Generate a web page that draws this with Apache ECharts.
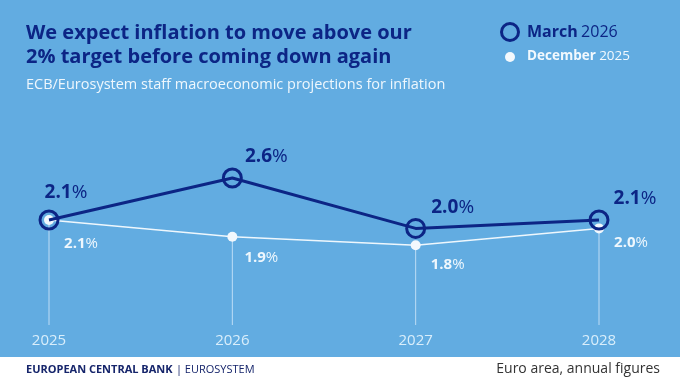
<!DOCTYPE html>
<html><head><meta charset="utf-8">
<script src="https://cdn.jsdelivr.net/npm/echarts@6/dist/echarts.min.js"></script>
<style>html,body{margin:0;padding:0;background:#fff}#c{width:680px;height:383px}</style>
</head><body><div id="c"></div>
<script>
const years = ['2025', '2026', '2027', '2028'];
const march2026 = [2.1, 2.6, 2.0, 2.1];
const december2025 = [2.1, 1.9, 1.8, 2.0];

const NAVY = '#0c2585';
const BG = '#62ace1';
const FONTNAME = '"Open Sans", sans-serif';
const FONT = FONTNAME;

const marchOffsets = [[17, -27], [34, -21], [37, -21], [36, -21]];
const decOffsets = [[32, 24], [29, 21], [32, 20], [32, 14]];

const chart = echarts.init(document.getElementById('c'), null, {renderer: 'canvas'});
chart.setOption({
  backgroundColor: '#ffffff',
  animation: false,
  grid: {left: 49, right: 81, top: 144.4, bottom: 58},
  xAxis: {
    type: 'category', data: years, boundaryGap: false,
    axisLine: {show: false}, axisTick: {show: false}, splitLine: {show: false},
    axisLabel: {color: '#d9eefb', fontFamily: FONT, fontSize: 15, margin: 8}
  },
  yAxis: {type: 'value', min: 0.85, max: 3.0, show: false},
  graphic: [
    {type: 'rect', z: -10, shape: {x: 0, y: 0, width: 680, height: 357}, style: {fill: BG}},
    {type: 'text', left: 26, top: 21, style: {text: 'We expect inflation to move above our\n2% target before coming down again', fill: NAVY, font: 'bold 20px ' + FONT, lineHeight: 24}},
    {type: 'text', left: 26, top: 77, style: {text: 'ECB/Eurosystem staff macroeconomic projections for inflation', fill: '#eef7fd', font: '14.5px ' + FONT}},
    {type: 'circle', shape: {cx: 510, cy: 32, r: 8.5}, style: {fill: 'none', stroke: NAVY, lineWidth: 3}},
    {type: 'text', left: 527, top: 24, style: {text: '{b|March} {n|2026}', rich: {b: {font: 'bold 16px ' + FONT, fill: NAVY}, n: {font: '16px ' + FONT, fill: NAVY}}}},
    {type: 'circle', shape: {cx: 510, cy: 57, r: 5}, style: {fill: '#f4f9fd'}},
    {type: 'text', left: 527, top: 49, style: {text: '{b|December} {n|2025}', rich: {b: {font: 'bold 13.5px ' + FONT, fill: '#f2f9fe'}, n: {font: '13.5px ' + FONT, fill: '#f2f9fe'}}}},
    {type: 'text', left: 26, top: 364, style: {text: '{b|EUROPEAN CENTRAL BANK} {n|| EUROSYSTEM}', rich: {b: {font: 'bold 11px ' + FONT, fill: '#16256b'}, n: {font: '11px ' + FONT, fill: '#16256b'}}}},
    {type: 'text', right: 20, top: 362, style: {text: 'Euro area, annual figures', fill: '#333333', font: '14px ' + FONT}}
  ],
  series: [
    {
      type: 'bar', data: december2025, barWidth: 1, silent: true, z: 1,
      itemStyle: {color: 'rgba(220,238,252,0.75)'}
    },
    {
      type: 'line', data: december2025.map((v, i) => ({value: v, label: {offset: decOffsets[i]}})),
      z: 3, symbol: 'circle', symbolSize: 10,
      lineStyle: {color: '#eef7fd', width: 1.5},
      itemStyle: {color: '#f2f8fd', borderWidth: 0},
      label: {show: true, position: 'inside', formatter: p => '{b|' + p.value.toFixed(1) + '}{n|%}',
        rich: {b: {fontFamily: FONTNAME, fontWeight: 'bold', fontSize: 15, color: '#eef7fd'}, n: {fontFamily: FONTNAME, fontWeight: 'normal', fontSize: 15, color: '#eef7fd'}}}
    },
    {
      type: 'line', data: march2026.map((v, i) => ({value: v, label: {offset: marchOffsets[i]}})),
      z: 5, symbol: 'circle', symbolSize: 18,
      lineStyle: {color: NAVY, width: 3},
      itemStyle: {color: 'rgba(0,0,0,0)', borderColor: NAVY, borderWidth: 3},
      label: {show: true, position: 'inside', formatter: p => '{b|' + p.value.toFixed(1) + '}{n|%}',
        rich: {b: {fontFamily: FONTNAME, fontWeight: 'bold', fontSize: 19, color: NAVY}, n: {fontFamily: FONTNAME, fontWeight: 'normal', fontSize: 19, color: NAVY}}}
    }
  ]
});
</script></body></html>
